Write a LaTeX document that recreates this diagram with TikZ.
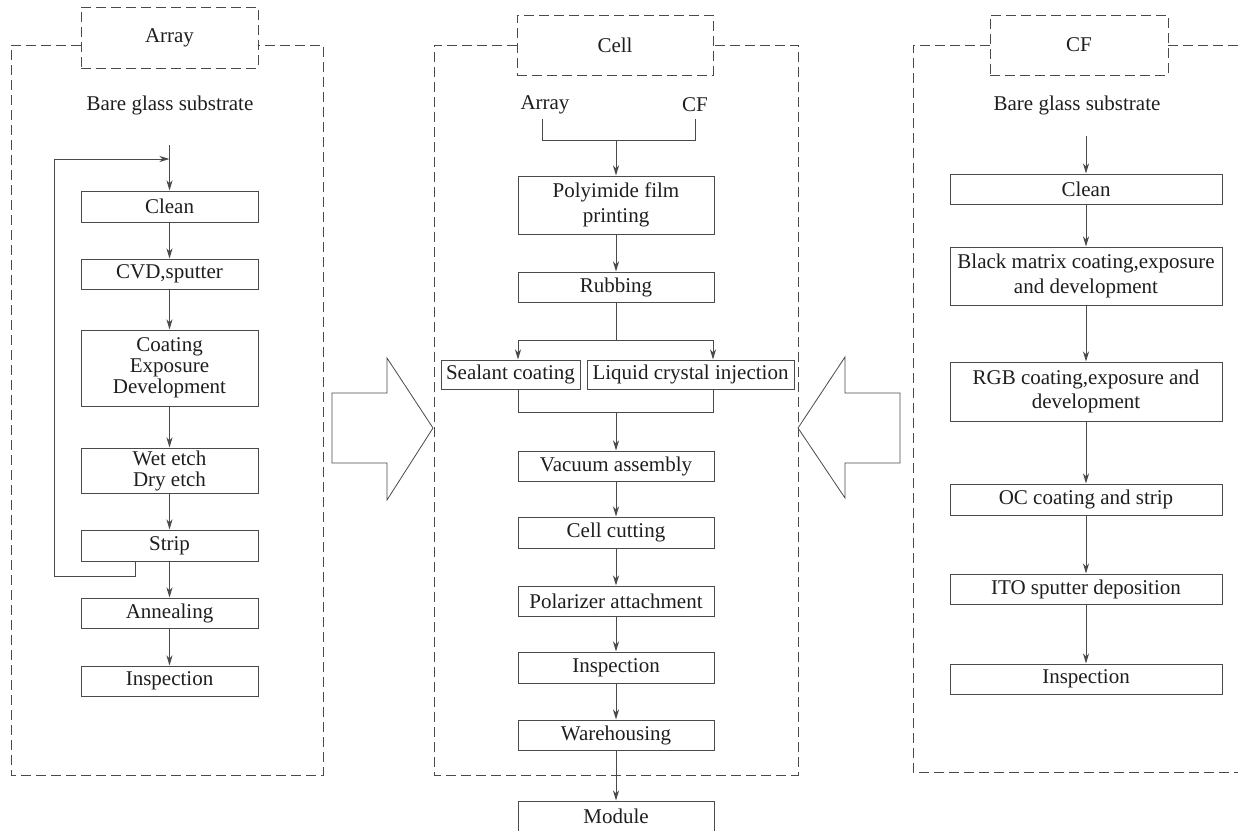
\documentclass[tikz,border=0pt]{standalone}
\usepackage{fontspec}
\setmainfont{Liberation Serif}
\usetikzlibrary{arrows.meta}
\definecolor{lc}{HTML}{4A4A4A}
\definecolor{tc}{HTML}{1E1E1E}
\newcommand{\fsz}{\fontsize{21}{24.5}\selectfont}
\begin{document}
\begin{tikzpicture}[x=1pt,y=-1pt,
  pbox/.style={draw=lc, line width=1pt, inner sep=0pt, align=center, font=\fsz, text=tc},
  tbox/.style={draw=lc, line width=1pt, dash pattern=on 10pt off 5pt, inner sep=0pt, align=center, font=\fsz, text=tc},
  lbl/.style={inner sep=0pt, font=\fsz, text=tc},
  outer/.style={draw=lc, line width=1pt, dash pattern=on 10pt off 5pt},
  ln/.style={draw=lc, line width=1pt},
  arr/.style={draw=lc, line width=1pt, -{Stealth[length=10pt,width=6pt,inset=3pt]}},
  hollow/.style={draw=lc, line width=0.8pt, fill=white}]
\clip (0,0) rectangle (1238,830);
\useasboundingbox (0,0) rectangle (1238,830);

% ---------------- Array ----------------
\draw[outer] (81,45) -- (11,45) -- (11,775) -- (323,775) -- (323,45) -- (258,45);
\node[tbox, minimum width=177pt, minimum height=61pt] (arrt) at (169.5,37.5) {Array};
\node[lbl] (abare) at (170,105) {Bare glass substrate};
\node[pbox, minimum width=177pt, minimum height=31pt] (aclean) at (169.5,206.5) {Clean};
\node[pbox, minimum width=177pt, minimum height=30pt] (acvd) at (169.5,274) {CVD,sputter};
\node[pbox, minimum width=177pt, minimum height=76pt, font=\fontsize{21}{21}\selectfont] (acoat) at (169.5,368) {Coating\\Exposure\\Development};
\node[pbox, minimum width=177pt, minimum height=45pt, font=\fontsize{21}{21}\selectfont] (awet) at (169.5,470.5) {Wet etch\\Dry etch};
\node[pbox, minimum width=177pt, minimum height=31pt] (astrip) at (169.5,545.5) {Strip};
\node[pbox, minimum width=177pt, minimum height=30pt] (aann) at (169.5,613) {Annealing};
\node[pbox, minimum width=177pt, minimum height=30pt] (ainsp) at (169.5,681) {Inspection};
\coordinate (astart) at (169.5,145);
\coordinate (aloopx) at (135,0);
\coordinate (aloopb) at (54,576);
\coordinate (alooptop) at (169.5,159);
\draw[arr] (astart) -- (aclean);
\draw[arr] (aclean) -- (acvd);
\draw[arr] (acvd) -- (acoat);
\draw[arr] (acoat) -- (awet);
\draw[arr] (awet) -- (astrip);
\draw[arr] (astrip) -- (aann);
\draw[arr] (aann) -- (ainsp);
\draw[arr] (astrip.south -| aloopx) |- (aloopb) |- (alooptop);

% ---------------- Cell ----------------
\draw[outer] (517,45) -- (434,45) -- (434,775) -- (798,775) -- (798,45) -- (713,45);
\node[tbox, minimum width=196pt, minimum height=60pt] (cellt) at (615,45) {Cell};
\node[lbl] (carr) at (545,105) {Array};
\node[lbl] (ccf) at (695,105) {CF};
\node[pbox, minimum width=196pt, minimum height=58pt, font=\fontsize{21}{25.5}\selectfont] (cpoly) at (616,205) {Polyimide film\\printing};
\node[pbox, minimum width=196pt, minimum height=30pt] (crub) at (616,287) {Rubbing};
\node[pbox, minimum width=139pt, minimum height=29pt] (cseal) at (510.5,374.5) {Sealant coating};
\node[pbox, minimum width=207pt, minimum height=29pt] (cliq) at (690.5,374.5) {Liquid crystal injection};
\node[pbox, minimum width=196pt, minimum height=30pt] (cvac) at (616,466) {Vacuum assembly};
\node[pbox, minimum width=196pt, minimum height=31pt] (ccut) at (616,532.5) {Cell cutting};
\node[pbox, minimum width=196pt, minimum height=30pt] (cpol) at (616,601) {Polarizer attachment};
\node[pbox, minimum width=196pt, minimum height=31pt] (cinsp) at (616,667.5) {Inspection};
\node[pbox, minimum width=196pt, minimum height=30pt] (cware) at (616,735) {Warehousing};
\node[pbox, minimum width=196pt, minimum height=31pt] (cmod) at (616,816.5) {Module};
\coordinate (ja) at (542,119);
\coordinate (ja2) at (542,140);
\coordinate (jc) at (695,119);
\coordinate (jc2) at (695,140);
\coordinate (jm) at (616,140);
\coordinate (sm) at (616,340);
\coordinate (sl) at (518,340);
\coordinate (sr) at (713,340);
\coordinate (bl) at (518,412);
\coordinate (br) at (713,412);
\coordinate (bm) at (616,412);
\draw[ln] (ja) -- (ja2) -- (jc2) -- (jc);
\draw[arr] (jm) -- (cpoly);
\draw[arr] (cpoly) -- (crub);
\draw[ln] (crub) -- (sm);
\draw[ln] (sl) -- (sr);
\draw[arr] (sl) -- (sl |- cseal.north);
\draw[arr] (sr) -- (sr |- cliq.north);
\draw[ln] (sl |- cseal.south) -- (bl) -- (br) -- (sr |- cliq.south);
\draw[arr] (bm) -- (cvac);
\draw[arr] (cvac) -- (ccut);
\draw[arr] (ccut) -- (cpol);
\draw[arr] (cpol) -- (cinsp);
\draw[arr] (cinsp) -- (cware);
\draw[arr] (cware) -- (cmod);

% ---------------- CF ----------------
\draw[outer] (990,45) -- (913,45) -- (913,772) -- (1250,772);
\draw[outer] (1168,45) -- (1250,45);
\node[tbox, minimum width=178pt, minimum height=60pt] (cft) at (1079,45) {CF};
\node[lbl] (fbare) at (1077,105) {Bare glass substrate};
\node[pbox, minimum width=272pt, minimum height=30pt] (fclean) at (1086,189) {Clean};
\node[pbox, minimum width=272pt, minimum height=58pt] (fbm) at (1086,276) {Black matrix coating,exposure\\and development};
\node[pbox, minimum width=272pt, minimum height=59pt] (frgb) at (1086,391.5) {RGB coating,exposure and\\development};
\node[pbox, minimum width=272pt, minimum height=31pt] (foc) at (1086,499.5) {OC coating and strip};
\node[pbox, minimum width=272pt, minimum height=30pt] (fito) at (1086,589) {ITO sputter deposition};
\node[pbox, minimum width=272pt, minimum height=30pt] (finsp) at (1086,679) {Inspection};
\coordinate (fstart) at (1086,136);
\draw[arr] (fstart) -- (fclean);
\draw[arr] (fclean) -- (fbm);
\draw[arr] (fbm) -- (frgb);
\draw[arr] (frgb) -- (foc);
\draw[arr] (foc) -- (fito);
\draw[arr] (fito) -- (finsp);

% ---------------- hollow arrows ----------------
\draw[hollow] (332,393) -- (387,393) -- (387,358) -- (433,428) -- (387,500) -- (387,463) -- (332,463) -- cycle;
\draw[hollow] (798,428) -- (845,357) -- (845,393) -- (900,393) -- (900,463) -- (845,463) -- (845,498) -- cycle;
\end{tikzpicture}
\end{document}
